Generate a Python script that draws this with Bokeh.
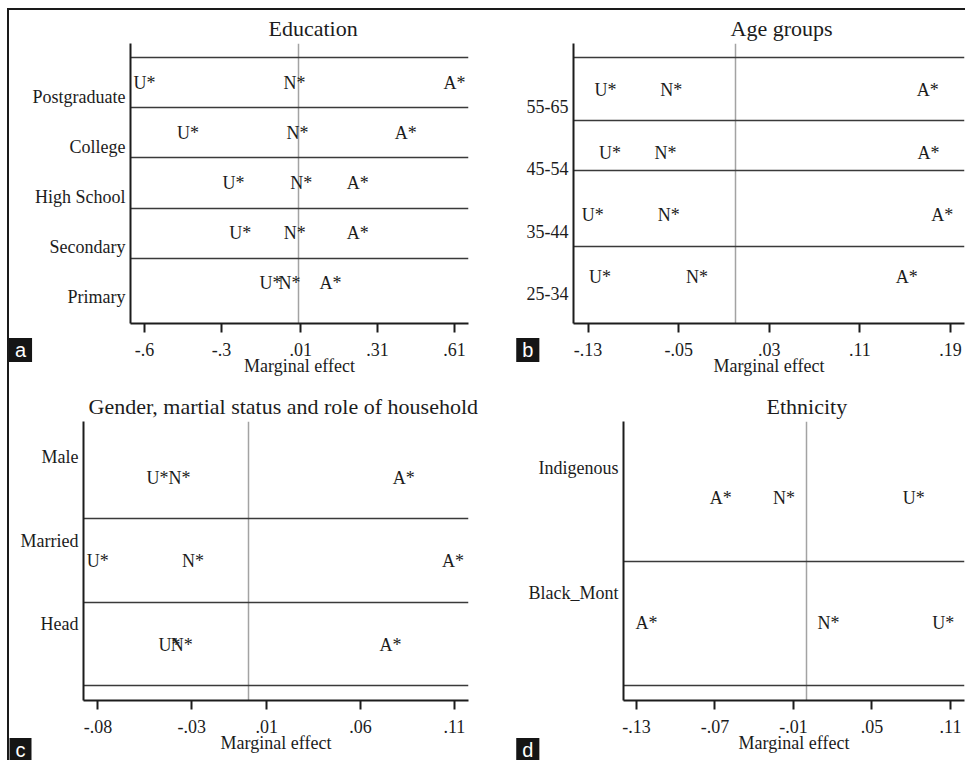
from bokeh.plotting import figure
from bokeh.layouts import column, row
from bokeh.models import FixedTicker, Label, Range1d
from bokeh.core.properties import value
from bokeh.embed import file_html
from bokeh.resources import INLINE

# ---------------- data ----------------
edu_cats = ["Primary", "Secondary", "High School", "College", "Postgraduate"]
edu_U = [-0.108, -0.226, -0.253, -0.430, -0.600]
edu_N = [-0.034, -0.014, 0.012, -0.003, -0.015]
edu_A = [0.126, 0.232, 0.232, 0.420, 0.610]
edu_ticks = [-0.6, -0.3, 0.01, 0.31, 0.61]
edu_sep = [1.78, 2.78, 3.78, 4.78, 5.78]

age_cats = ["25-34", "35-44", "45-54", "55-65"]
age_U = [-0.1195, -0.126, -0.1107, -0.1147]
age_N = [-0.0338, -0.0588, -0.0617, -0.0566]
age_A = [0.1513, 0.1826, 0.1706, 0.1699]
age_ticks = [-0.13, -0.05, 0.03, 0.11, 0.19]
age_sep = [1.75, 2.98, 3.78, 4.79]

gen_cats = ["Head", "Married", "Male"]
gen_U = [-0.0419, -0.0801, -0.0482]
gen_N = [-0.0354, -0.0294, -0.0365]
gen_A = [0.0759, 0.1092, 0.0830]
gen_ticks = [-0.08, -0.03, 0.01, 0.06, 0.11]
gen_sep = [0.26, 1.26, 2.27]

eth_cats = ["Black_Mont", "Indigenous"]
eth_U = [0.1044, 0.0819]
eth_N = [0.0168, -0.0173]
eth_A = [-0.1223, -0.0656]
eth_ticks = [-0.13, -0.07, -0.01, 0.05, 0.11]
eth_sep = [0.26, 1.25]

ref_x = [0.0]

titles = ["Education", "Age groups", "Gender, martial status and role of household", "Ethnicity"]
letters = ["a", "b", "c", "d"]
x_label = "Marginal effect"

FONT = "Liberation Serif"
INK = "#1c1c1c"


def fmt(v):
    s = f"{v:g}"
    return s.replace("0.", ".", 1)


def panel(width, height, mb, xr, yr, cats, U, N, A, xticks, seps, text_dy,
          title, title_off, letter, letter_px, letter_side):
    p = figure(width=width, height=height, output_backend="svg", toolbar_location=None,
               x_range=Range1d(*xr), y_range=Range1d(*yr),
               min_border_left=mb[0], min_border_right=mb[1],
               min_border_top=mb[2], min_border_bottom=mb[3])
    p.outline_line_color = None
    p.grid.visible = False
    p.background_fill_color = "white"
    p.border_fill_color = "white"

    fw = width - mb[0] - mb[1]
    fh = height - mb[2] - mb[3]

    xa = p.xaxis[0]
    xa.ticker = FixedTicker(ticks=xticks)
    xa.major_label_overrides = {t: fmt(t) for t in xticks}
    xa.minor_tick_line_color = None
    xa.major_tick_out = 9
    xa.major_tick_in = 0
    xa.major_tick_line_width = 2
    xa.major_tick_line_color = INK
    xa.axis_line_width = 2
    xa.axis_line_color = INK
    xa.major_label_text_font = FONT
    xa.major_label_text_font_size = "18px"
    xa.major_label_text_color = INK
    xa.major_label_standoff = 10
    xa.axis_label = x_label
    xa.axis_label_text_font = FONT
    xa.axis_label_text_font_size = "18px"
    xa.axis_label_text_font_style = "normal"
    xa.axis_label_text_color = INK
    xa.axis_label_standoff = -3

    ya = p.yaxis[0]
    ticks_y = list(range(1, len(cats) + 1))
    ya.ticker = FixedTicker(ticks=ticks_y)
    ya.major_label_overrides = {t: c for t, c in zip(ticks_y, cats)}
    ya.minor_tick_line_color = None
    ya.major_tick_line_color = None
    ya.major_tick_out = 0
    ya.major_tick_in = 0
    ya.axis_line_width = 2
    ya.axis_line_color = INK
    ya.major_label_text_font = FONT
    ya.major_label_text_font_size = "18px"
    ya.major_label_text_color = INK
    ya.major_label_standoff = 5

    p.vspan(x=ref_x, line_color="#a3a3a3", line_width=1.5)
    p.hspan(y=seps, line_color="#3a3a3a", line_width=1.5)

    ys = [t + text_dy for t in ticks_y]
    for vals, lab in ((U, "U*"), (N, "N*"), (A, "A*")):
        p.text(x=vals, y=ys, text=[lab] * len(vals), text_font=value(FONT),
               text_font_size="18px", text_align="center", text_baseline="middle",
               text_color=INK)

    p.title.text = title
    p.title.align = "left"
    p.title.offset = title_off
    p.title.standoff = 5
    p.title.text_font = FONT
    p.title.text_font_size = "22px"
    p.title.text_font_style = "normal"
    p.title.text_color = INK

    # panel letter: pixel offset from frame's bottom-left corner -> data units
    lx = xr[0] + letter_px[0] * (xr[1] - xr[0]) / fw
    ly = yr[0] + letter_px[1] * (yr[1] - yr[0]) / fh
    p.add_layout(Label(x=lx, y=ly, text=letter, text_font="Liberation Sans",
                       text_font_size="20px", text_color="white",
                       background_fill_color="#151515", padding=(6, 1),
                       text_align="center", text_baseline="middle"), letter_side)
    return p


pa = panel(491, 370, (121, 32, 33, 57), (-0.655, 0.665), (0.48, 6.06),
           edu_cats, edu_U, edu_N, edu_A, edu_ticks, edu_sep, 0.28,
           titles[0], 138, letters[0], (-110, -26.5), "right")
pb = panel(465, 370, (73, 1, 33, 57), (-0.1429, 0.2023), (0.52, 5.01),
           age_cats, age_U, age_N, age_A, age_ticks, age_sep, 0.26,
           titles[1], 157, letters[1], (-45.7, -26.5), "left")
pc = panel(491, 380, (74, 32, 41, 60), (-0.0877, 0.1175), (0.08, 3.43),
           gen_cats, gen_U, gen_N, gen_A, gen_ticks, gen_sep, -0.25,
           titles[2], 5, letters[2], (-63, -49.5), "right")
pd = panel(465, 380, (123, 1, 41, 60), (-0.1399, 0.1207), (0.14, 2.37),
           eth_cats, eth_U, eth_N, eth_A, eth_ticks, eth_sep, -0.24,
           titles[3], 143, letters[3], (-95.7, -49.5), "left")

layout = column(row(pa, pb), row(pc, pd),
                styles={"margin-left": "7px", "margin-top": "8px",
                        "border-top": "2px solid #1a1a1a", "border-left": "2px solid #1a1a1a"})

open("out.html", "w").write(file_html(layout, INLINE))
